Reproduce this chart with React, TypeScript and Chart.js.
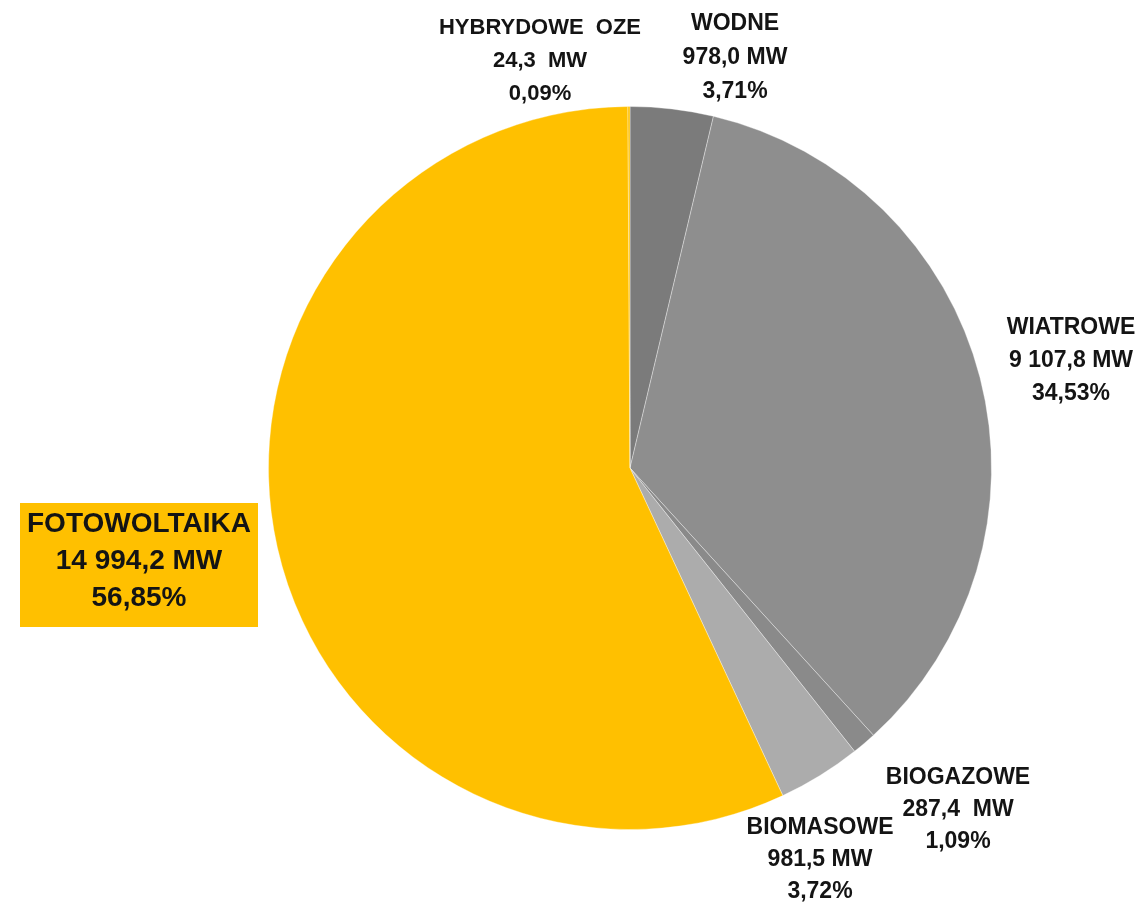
import React, { useEffect, useRef } from "react";
import { Chart, registerables } from "chart.js";

Chart.register(...registerables);

const categories = ["WODNE", "WIATROWE", "BIOGAZOWE", "BIOMASOWE", "FOTOWOLTAIKA", "HYBRYDOWE  OZE"];
const capacityMW = [978.0, 9107.8, 287.4, 981.5, 14994.2, 24.3];
const mwLabels = ["978,0 MW", "9 107,8 MW", "287,4  MW", "981,5 MW", "14 994,2 MW", "24,3  MW"];
const pctLabels = ["3,71%", "34,53%", "1,09%", "3,72%", "56,85%", "0,09%"];
const sliceColors = ["#7b7b7b", "#8e8e8e", "#8a8a8a", "#acacac", "#ffc000", "#ffc000"];

// label anchor positions (canvas px): center x, first-line center y, line spacing, font size
const labelLayout = [
  { x: 735, y: 24, lh: 34, size: 23 },
  { x: 1071, y: 328, lh: 33, size: 23 },
  { x: 958, y: 778, lh: 32, size: 23 },
  { x: 820, y: 828, lh: 32, size: 23 },
  { x: 139, y: 524, lh: 37, size: 28, box: { x: 20, y: 503, w: 238, h: 124 } },
  { x: 540, y: 28, lh: 33, size: 22 },
];

const labelPlugin = {
  id: "sliceLabels",
  afterDraw(chart: any) {
    const ctx = chart.ctx;
    ctx.save();
    labelLayout.forEach((p: any, i: number) => {
      if (p.box) {
        ctx.fillStyle = "#ffc000";
        ctx.fillRect(p.box.x, p.box.y, p.box.w, p.box.h);
      }
      ctx.fillStyle = "#141414";
      ctx.font = `bold ${p.size}px "Liberation Sans", Arial, sans-serif`;
      ctx.textAlign = "center";
      ctx.textBaseline = "middle";
      const lines = [categories[i], mwLabels[i], pctLabels[i]];
      lines.forEach((t, k) => ctx.fillText(t, p.x, p.y + k * p.lh));
    });
    ctx.restore();
  },
};

export default function App() {
  const ref = useRef<HTMLCanvasElement | null>(null);
  useEffect(() => {
    if (!ref.current) return;
    const chart = new Chart(ref.current, {
      type: "pie",
      data: {
        labels: categories,
        datasets: [
          {
            data: capacityMW,
            backgroundColor: sliceColors,
            borderColor: "rgba(255,255,255,0.35)",
            borderWidth: 1,
          },
        ],
      },
      options: {
        animation: false,
        responsive: true,
        maintainAspectRatio: false,
        layout: { padding: { left: 268, right: 150, top: 106, bottom: 77 } },
        plugins: {
          legend: { display: false },
          tooltip: { enabled: false },
        },
      },
      plugins: [labelPlugin],
    });
    return () => chart.destroy();
  }, []);
  return (
    <div style={{ position: "fixed", left: 0, top: 0, width: 1142, height: 907, background: "#fff" }}>
      <canvas ref={ref} />
    </div>
  );
}
